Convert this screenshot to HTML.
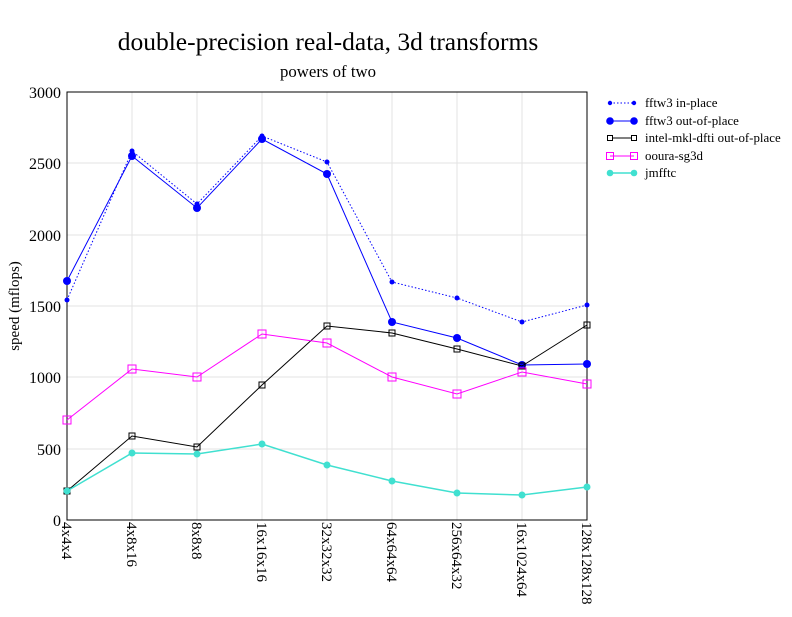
<!DOCTYPE html>
<html><head><style>body{margin:0;background:#fff}</style></head><body>
<svg width="792" height="612" xmlns="http://www.w3.org/2000/svg" font-family="Liberation Serif, serif">
<rect width="792" height="612" fill="#fff"/>
<text x="328" y="50" font-size="25.5" text-anchor="middle">double-precision real-data, 3d transforms</text>
<text x="328" y="77" font-size="16.8" text-anchor="middle">powers of two</text>
<g stroke="#e3e3e3" stroke-width="1">
<line x1="67" y1="163" x2="587" y2="163"/><line x1="67" y1="235" x2="587" y2="235"/><line x1="67" y1="306" x2="587" y2="306"/><line x1="67" y1="377" x2="587" y2="377"/><line x1="67" y1="449" x2="587" y2="449"/>
<line x1="132" y1="92" x2="132" y2="520"/><line x1="197" y1="92" x2="197" y2="520"/><line x1="262" y1="92" x2="262" y2="520"/><line x1="327" y1="92" x2="327" y2="520"/><line x1="392" y1="92" x2="392" y2="520"/><line x1="457" y1="92" x2="457" y2="520"/><line x1="522" y1="92" x2="522" y2="520"/>
</g>
<rect x="67" y="92" width="520" height="428" fill="none" stroke="#000" stroke-width="1"/>
<g font-size="16" text-anchor="end">
<text x="61" y="98">3000</text><text x="61" y="169">2500</text><text x="61" y="241">2000</text><text x="61" y="312">1500</text><text x="61" y="383">1000</text><text x="61" y="455">500</text><text x="61" y="526">0</text>
</g>
<text transform="translate(19,306) rotate(-90)" font-size="15" text-anchor="middle">speed (mflops)</text>
<g font-size="15">
<text transform="translate(62,522) rotate(90)">4x4x4</text>
<text transform="translate(127,522) rotate(90)">4x8x16</text>
<text transform="translate(192,522) rotate(90)">8x8x8</text>
<text transform="translate(257,522) rotate(90)">16x16x16</text>
<text transform="translate(322,522) rotate(90)">32x32x32</text>
<text transform="translate(387,522) rotate(90)">64x64x64</text>
<text transform="translate(452,522) rotate(90)">256x64x32</text>
<text transform="translate(517,522) rotate(90)">16x1024x64</text>
<text transform="translate(582,522) rotate(90)">128x128x128</text>
</g>
<polyline fill="none" stroke="#0000ff" stroke-dasharray="1.5,2" points="67,300 132,151 197,204 262,136 327,162 392,282 457,298 522,322 587,305"/>
<g fill="#0000ff"><circle cx="67" cy="300" r="2.5"/><circle cx="132" cy="151" r="2.5"/><circle cx="197" cy="204" r="2.5"/><circle cx="262" cy="136" r="2.5"/><circle cx="327" cy="162" r="2.5"/><circle cx="392" cy="282" r="2.5"/><circle cx="457" cy="298" r="2.5"/><circle cx="522" cy="322" r="2.5"/><circle cx="587" cy="305" r="2.5"/></g>
<polyline fill="none" stroke="#0000ff" points="67,281 132,156 197,208 262,139 327,174 392,322 457,338 522,365 587,364"/>
<g fill="#0000ff"><circle cx="67" cy="281" r="4"/><circle cx="132" cy="156" r="4"/><circle cx="197" cy="208" r="4"/><circle cx="262" cy="139" r="4"/><circle cx="327" cy="174" r="4"/><circle cx="392" cy="322" r="4"/><circle cx="457" cy="338" r="4"/><circle cx="522" cy="365" r="4"/><circle cx="587" cy="364" r="4"/></g>
<polyline fill="none" stroke="#000" points="67,491 132,436 197,447 262,385 327,326 392,333 457,349 522,366 587,325"/>
<g fill="none" stroke="#000"><rect x="64" y="488" width="6" height="6"/><rect x="129" y="433" width="6" height="6"/><rect x="194" y="444" width="6" height="6"/><rect x="259" y="382" width="6" height="6"/><rect x="324" y="323" width="6" height="6"/><rect x="389" y="330" width="6" height="6"/><rect x="454" y="346" width="6" height="6"/><rect x="519" y="363" width="6" height="6"/><rect x="584" y="322" width="6" height="6"/></g>
<polyline fill="none" stroke="#ff00ff" points="67,420 132,369 197,377 262,334 327,343 392,377 457,394 522,372 587,384"/>
<g fill="none" stroke="#ff00ff"><rect x="63" y="416" width="8" height="8"/><rect x="128" y="365" width="8" height="8"/><rect x="193" y="373" width="8" height="8"/><rect x="258" y="330" width="8" height="8"/><rect x="323" y="339" width="8" height="8"/><rect x="388" y="373" width="8" height="8"/><rect x="453" y="390" width="8" height="8"/><rect x="518" y="368" width="8" height="8"/><rect x="583" y="380" width="8" height="8"/></g>
<polyline fill="none" stroke="#40e0d0" stroke-width="1.5" points="67,491 132,453 197,454 262,444 327,465 392,481 457,493 522,495 587,487"/>
<g fill="#40e0d0"><circle cx="67" cy="491" r="3.5"/><circle cx="132" cy="453" r="3.5"/><circle cx="197" cy="454" r="3.5"/><circle cx="262" cy="444" r="3.5"/><circle cx="327" cy="465" r="3.5"/><circle cx="392" cy="481" r="3.5"/><circle cx="457" cy="493" r="3.5"/><circle cx="522" cy="495" r="3.5"/><circle cx="587" cy="487" r="3.5"/></g>
<g font-size="12.9">
<line x1="610" y1="103" x2="634" y2="103" stroke="#0000ff" stroke-dasharray="1.5,2"/><circle cx="610" cy="103" r="2.2" fill="#0000ff"/><circle cx="634" cy="103" r="2.2" fill="#0000ff"/><text x="645" y="107">fftw3 in-place</text>
<line x1="610" y1="121" x2="634" y2="121" stroke="#0000ff"/><circle cx="610" cy="121" r="3.8" fill="#0000ff"/><circle cx="634" cy="121" r="3.8" fill="#0000ff"/><text x="645" y="125">fftw3 out-of-place</text>
<line x1="610" y1="138" x2="634" y2="138" stroke="#000"/><rect x="607.5" y="135.5" width="5" height="5" fill="#fff" stroke="#000"/><rect x="631.5" y="135.5" width="5" height="5" fill="#fff" stroke="#000"/><text x="645" y="142">intel-mkl-dfti out-of-place</text>
<line x1="610" y1="156" x2="634" y2="156" stroke="#ff00ff"/><rect x="606.5" y="152.5" width="7" height="7" fill="none" stroke="#ff00ff"/><rect x="630.5" y="152.5" width="7" height="7" fill="none" stroke="#ff00ff"/><text x="645" y="160">ooura-sg3d</text>
<line x1="610" y1="173" x2="634" y2="173" stroke="#40e0d0" stroke-width="1.5"/><circle cx="610" cy="173" r="3.3" fill="#40e0d0"/><circle cx="634" cy="173" r="3.3" fill="#40e0d0"/><text x="645" y="177">jmfftc</text>
</g>
</svg>
</body></html>
